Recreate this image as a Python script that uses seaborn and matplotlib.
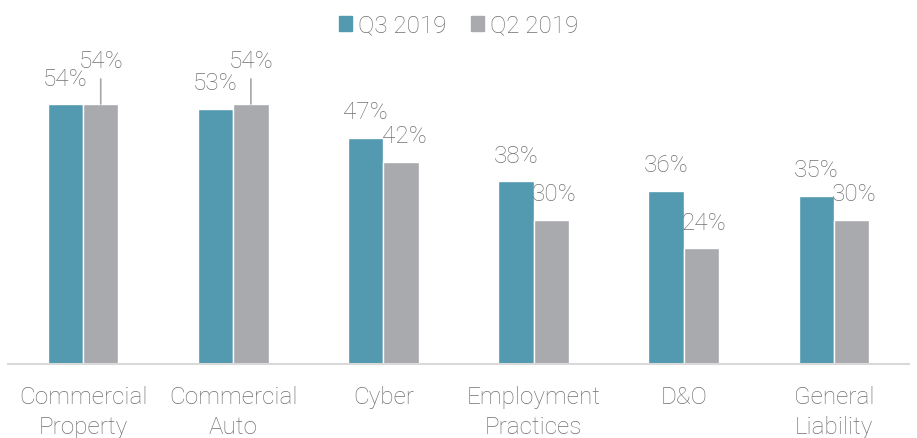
import numpy as np
import pandas as pd
import matplotlib.pyplot as plt
import seaborn as sns

categories = ["Commercial\nProperty", "Commercial\nAuto", "Cyber",
              "Employment\nPractices", "D&O", "General\nLiability"]
series_names = ["Q3 2019", "Q2 2019"]
q3_2019 = [54, 53, 47, 38, 36, 35]
q2_2019 = [54, 54, 42, 30, 24, 30]

colors = ["#5399B0", "#A9AAAE"]
text_color = "#707070"

df = pd.DataFrame({
    "category": categories * 2,
    "period": [series_names[0]] * len(categories) + [series_names[1]] * len(categories),
    "value": q3_2019 + q2_2019,
})

sns.set_theme(style="white")
plt.rcParams["font.family"] = ["Roboto", "DejaVu Sans"]
plt.rcParams["font.weight"] = "light"

fig = plt.figure(figsize=(9.17, 4.39), dpi=100)
ax = fig.add_axes([8 / 917, (439 - 365) / 439, 901 / 917, 337 / 439])

sns.barplot(data=df, x="category", y="value", hue="period", order=categories,
            hue_order=series_names, palette=colors, width=0.47, gap=0,
            saturation=1, legend=False, ax=ax)

ax.set_ylim(0, 70)
ax.set_xlim(-0.5, len(categories) - 0.5)
ax.set_xlabel("")
ax.set_ylabel("")
ax.set_yticks([])
for side in ["top", "left", "right"]:
    ax.spines[side].set_visible(False)
ax.spines["bottom"].set_color("#D9D9D9")
ax.spines["bottom"].set_linewidth(1.5)
ax.tick_params(axis="x", length=0, pad=15, labelsize=17.5, labelcolor=text_color)
for lbl in ax.get_xticklabels():
    lbl.set_linespacing(1.38)

# value labels; labels that would collide get lifted with a leader line
lifted = {(0, 1), (1, 1)}
for s, container in enumerate(ax.containers):
    vals = [q3_2019, q2_2019][s]
    dx = 0 if s == 0 else 3
    for i, bar in enumerate(container):
        x = bar.get_x() + bar.get_width() / 2
        y = bar.get_height()
        if (i, s) in lifted:
            ax.annotate(f"{vals[i]}%", xy=(x, y), xytext=(0, 44),
                        textcoords="offset pixels", ha="center", va="center",
                        fontsize=17.5, color=text_color, annotation_clip=False,
                        arrowprops=dict(arrowstyle="-", color="#A6A6A6", lw=1.2,
                                        shrinkA=3, shrinkB=0))
        else:
            ax.annotate(f"{vals[i]}%", xy=(x, y), xytext=(dx, 26),
                        textcoords="offset pixels", ha="center", va="center",
                        fontsize=17.5, color=text_color, annotation_clip=False)

handles = [plt.Rectangle((0, 0), 1, 1, color=c) for c in colors]
leg = fig.legend(handles, series_names, loc="upper center", bbox_to_anchor=(0.5, 1.015),
                 ncol=2, frameon=False, fontsize=17.5, handlelength=0.55, handleheight=0.55,
                 handletextpad=0.25, columnspacing=1.0, labelcolor=text_color)

fig.savefig("out.png", dpi=100)
plt.close(fig)
